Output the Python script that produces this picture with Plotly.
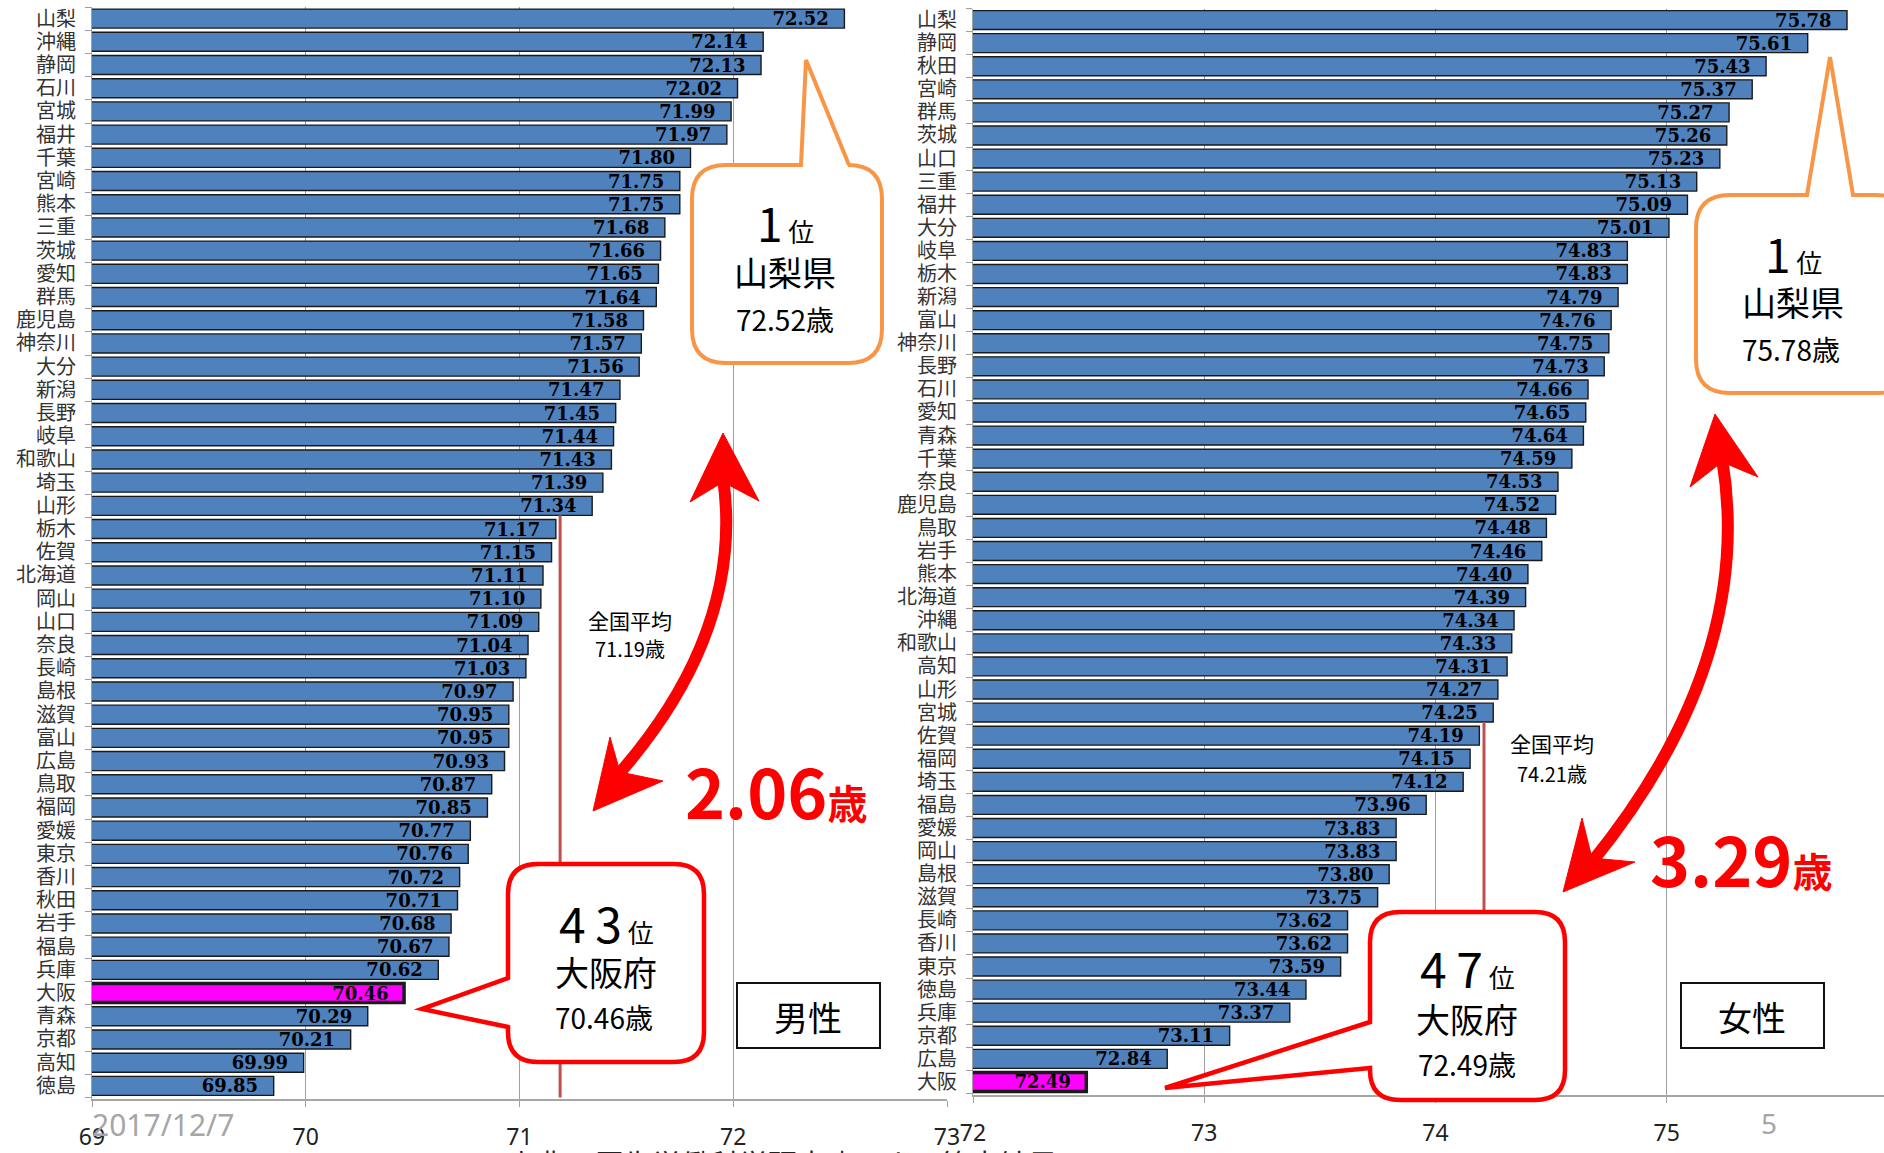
import plotly.graph_objects as go

W, H = 1884, 1153

# ---------------- data ----------------
pref_male = ["山梨", "沖縄", "静岡", "石川", "宮城", "福井", "千葉", "宮崎", "熊本", "三重",
             "茨城", "愛知", "群馬", "鹿児島", "神奈川", "大分", "新潟", "長野", "岐阜", "和歌山",
             "埼玉", "山形", "栃木", "佐賀", "北海道", "岡山", "山口", "奈良", "長崎", "島根",
             "滋賀", "富山", "広島", "鳥取", "福岡", "愛媛", "東京", "香川", "秋田", "岩手",
             "福島", "兵庫", "大阪", "青森", "京都", "高知", "徳島"]
male = [72.52, 72.14, 72.13, 72.02, 71.99, 71.97, 71.80, 71.75, 71.75, 71.68,
        71.66, 71.65, 71.64, 71.58, 71.57, 71.56, 71.47, 71.45, 71.44, 71.43,
        71.39, 71.34, 71.17, 71.15, 71.11, 71.10, 71.09, 71.04, 71.03, 70.97,
        70.95, 70.95, 70.93, 70.87, 70.85, 70.77, 70.76, 70.72, 70.71, 70.68,
        70.67, 70.62, 70.46, 70.29, 70.21, 69.99, 69.85]

pref_female = ["山梨", "静岡", "秋田", "宮崎", "群馬", "茨城", "山口", "三重", "福井", "大分",
               "岐阜", "栃木", "新潟", "富山", "神奈川", "長野", "石川", "愛知", "青森", "千葉",
               "奈良", "鹿児島", "鳥取", "岩手", "熊本", "北海道", "沖縄", "和歌山", "高知", "山形",
               "宮城", "佐賀", "福岡", "埼玉", "福島", "愛媛", "岡山", "島根", "滋賀", "長崎",
               "香川", "東京", "徳島", "兵庫", "京都", "広島", "大阪"]
female = [75.78, 75.61, 75.43, 75.37, 75.27, 75.26, 75.23, 75.13, 75.09, 75.01,
          74.83, 74.83, 74.79, 74.76, 74.75, 74.73, 74.66, 74.65, 74.64, 74.59,
          74.53, 74.52, 74.48, 74.46, 74.40, 74.39, 74.34, 74.33, 74.31, 74.27,
          74.25, 74.19, 74.15, 74.12, 73.96, 73.83, 73.83, 73.80, 73.75, 73.62,
          73.62, 73.59, 73.44, 73.37, 73.11, 72.84, 72.49]

mean_male = 71.19
mean_female = 74.21
highlight = "大阪"
x_ticks_male = [69, 70, 71, 72, 73]
x_ticks_female = [72, 73, 74, 75]

# ---------------- styles ----------------
BAR = "#4F81BD"
HL = "#FF00FF"
GRID = "#A0A0A0"
CJK = "Noto Sans CJK JP"
NB = "\u00a0"


def px(x):
    return x / W


def py(y):
    return 1 - y / H


def pt(x, y):
    return f"{px(x):.5f},{py(y):.5f}"


def bar_trace(names, vals, xa, ya):
    colors = [HL if n == highlight else BAR for n in names]
    lw = [3.5 if n == highlight else 1.4 for n in names]
    return go.Bar(
        y=names, x=vals, orientation="h", xaxis=xa, yaxis=ya,
        marker=dict(color=colors, line=dict(color="#1a1a1a", width=lw)),
        texttemplate="%{x:.2f}" + NB + NB, textposition="inside",
        insidetextanchor="end", constraintext="none", textangle=0,
        textfont=dict(family="DejaVu Serif", size=18, color="black", weight="bold"),
        hoverinfo="skip", showlegend=False, cliponaxis=False,
    )


fig = go.Figure()
fig.add_trace(bar_trace(pref_male, male, "x", "y"))
fig.add_trace(bar_trace(pref_female, female, "x2", "y2"))

yax_common = dict(
    type="category", autorange="reversed", showgrid=False,
    showline=True, linecolor=GRID, linewidth=1,
    ticks="outside", ticklen=6, tickcolor=GRID, tickson="boundaries",
    tickfont=dict(family=CJK, size=20, color="#333333"), ticklabelstandoff=11,
)
xax_common = dict(
    showgrid=True, gridcolor=GRID, gridwidth=1, zeroline=False,
    showline=True, linecolor="#A6A6A6", linewidth=2,
    ticks="outside", ticklen=6, tickcolor=GRID,
    tickfont=dict(family="Noto Sans", size=23, color="#222222"), ticklabelstandoff=10,
)

fig.update_layout(
    width=W, height=H, paper_bgcolor="white", plot_bgcolor="rgba(0,0,0,0)",
    margin=dict(l=0, r=0, t=0, b=0, autoexpand=False),
    bargap=0.18,
    xaxis=dict(domain=[px(92), px(947)], range=[69, 73], anchor="y",
               tickvals=x_ticks_male, **xax_common),
    yaxis=dict(domain=[py(1099), py(7)], anchor="x", tickmode="array",
               tickvals=pref_male, ticktext=pref_male, **yax_common),
    xaxis2=dict(domain=[px(973), 1.0], range=[72, 75.94], anchor="y2",
                tickvals=x_ticks_female, **xax_common),
    yaxis2=dict(domain=[py(1095), py(8.5)], anchor="x2", tickmode="array",
                tickvals=pref_female, ticktext=pref_female, **yax_common),
)

shapes = []

# national average lines (start below the last bar above the mean)
idx_m = max(i for i, v in enumerate(male) if v > mean_male)
idx_f = max(i for i, v in enumerate(female) if v > mean_female)
shapes.append(dict(type="line", xref="x", yref="y", x0=mean_male, x1=mean_male,
                   y0=idx_m + 0.41, y1=len(male) - 0.5,
                   line=dict(color="#C0504D", width=3), layer="above"))
shapes.append(dict(type="line", xref="x2", yref="y2", x0=mean_female, x1=mean_female,
                   y0=idx_f + 0.41, y1=len(female) - 0.5,
                   line=dict(color="#C0504D", width=3), layer="above"))


def callout_top(x0, y0, x1, y1, r, b1, b2, tip):
    return ("M " + pt(x0 + r, y0) + " L " + pt(b1, y0) + " L " + pt(*tip) + " L " + pt(b2, y0) +
            " L " + pt(x1 - r, y0) + " Q " + pt(x1, y0) + " " + pt(x1, y0 + r) +
            " L " + pt(x1, y1 - r) + " Q " + pt(x1, y1) + " " + pt(x1 - r, y1) +
            " L " + pt(x0 + r, y1) + " Q " + pt(x0, y1) + " " + pt(x0, y1 - r) +
            " L " + pt(x0, y0 + r) + " Q " + pt(x0, y0) + " " + pt(x0 + r, y0) + " Z")


def callout_left(x0, y0, x1, y1, r, b1, b2, tip):
    return ("M " + pt(x0 + r, y0) + " L " + pt(x1 - r, y0) + " Q " + pt(x1, y0) + " " + pt(x1, y0 + r) +
            " L " + pt(x1, y1 - r) + " Q " + pt(x1, y1) + " " + pt(x1 - r, y1) +
            " L " + pt(x0 + r, y1) + " Q " + pt(x0, y1) + " " + pt(x0, y1 - r) +
            " L " + pt(x0, b2) + " L " + pt(*tip) + " L " + pt(x0, b1) +
            " L " + pt(x0, y0 + r) + " Q " + pt(x0, y0) + " " + pt(x0 + r, y0) + " Z")


ORANGE = "#F79646"
RED = "#FF0000"
shapes.append(dict(type="path", xref="paper", yref="paper", layer="above",
                   path=callout_top(692, 165, 882, 363, 34, 801, 849, (806, 60)),
                   fillcolor="white", line=dict(color=ORANGE, width=4)))
shapes.append(dict(type="path", xref="paper", yref="paper", layer="above",
                   path=callout_top(1696, 195, 1910, 393, 34, 1807, 1853, (1830, 57)),
                   fillcolor="white", line=dict(color=ORANGE, width=4)))
shapes.append(dict(type="path", xref="paper", yref="paper", layer="above",
                   path=callout_left(508, 864, 704, 1062, 30, 978, 1027, (422, 1009)),
                   fillcolor="white", line=dict(color=RED, width=4.5)))
shapes.append(dict(type="path", xref="paper", yref="paper", layer="above",
                   path=callout_left(1370, 912, 1565, 1100, 30, 1022, 1068, (1165, 1088)),
                   fillcolor="white", line=dict(color=RED, width=4.5)))

# gender boxes
for (x0, y0, x1, y1) in [(737, 983, 880, 1048), (1681, 983, 1824, 1048)]:
    shapes.append(dict(type="rect", xref="paper", yref="paper", layer="above",
                       x0=px(x0), x1=px(x1), y0=py(y1), y1=py(y0),
                       fillcolor="white", line=dict(color="#111111", width=2)))

# red double arrows
def shaft(p0, c, p1):
    return "M " + pt(*p0) + " Q " + pt(*c) + " " + pt(*p1)


def head(tip, c1, notch, c2):
    return "M " + pt(*tip) + " L " + pt(*c1) + " L " + pt(*notch) + " L " + pt(*c2) + " Z"


for s in [shaft((723, 478), (745, 630), (618, 775)),
          shaft((1722, 458), (1756, 660), (1592, 862))]:
    shapes.append(dict(type="path", xref="paper", yref="paper", layer="above", path=s,
                       line=dict(color=RED, width=12)))
for h in [head((723, 433), (690, 502), (723, 482), (759, 501)),
          head((593, 811), (610, 737), (620, 772), (663, 781)),
          head((1715, 414), (1690, 487), (1722, 462), (1758, 477)),
          head((1563, 892), (1582, 818), (1592, 858), (1635, 862))]:
    shapes.append(dict(type="path", xref="paper", yref="paper", layer="above", path=h,
                       fillcolor=RED, line=dict(color=RED, width=1)))

fig.update_layout(shapes=shapes)

# ---------------- annotations ----------------
ann = []


def text(x, y, t, size, color="black", family=CJK, xanchor="center", yanchor="middle"):
    ann.append(dict(xref="paper", yref="paper", x=px(x), y=py(y), text=t, showarrow=False,
                    xanchor=xanchor, yanchor=yanchor,
                    font=dict(family=family, size=size, color=color)))


# 1st place callouts
text(785, 222, "<span style='font-size:46px'>1</span><span style='font-size:26px'> 位</span>", 26)
text(785, 272, "山梨県", 34)
text(785, 319, f"{male[0]:.2f}歳", 28)
text(1793, 253, "<span style='font-size:46px'>1</span><span style='font-size:26px'> 位</span>", 26)
text(1793, 302, "山梨県", 34)
text(1791, 349, f"{female[0]:.2f}歳", 28)

# Osaka callouts
rank_m = pref_male.index(highlight) + 1
rank_f = pref_female.index(highlight) + 1


def spaced(n):
    return "\u2009".join(str(n))


text(606, 922, f"<span style='font-size:48px'>{spaced(rank_m)}</span>"
               "<span style='font-size:26px'> 位</span>", 26)
text(606, 971, "大阪府", 34)
text(604, 1017, f"{male[rank_m - 1]:.2f}歳", 28)
text(1467, 967, f"<span style='font-size:48px'>{spaced(rank_f)}</span>"
                "<span style='font-size:26px'> 位</span>", 26)
text(1467, 1018, "大阪府", 34)
text(1467, 1064, f"{female[rank_f - 1]:.2f}歳", 28)

# national average labels
text(630, 620, "全国平均", 21)
text(630, 648, f"{mean_male:.2f}歳", 20)
text(1552, 743, "全国平均", 21)
text(1552, 773, f"{mean_female:.2f}歳", 20)

# gaps
gap_m = male[0] - male[rank_m - 1]
gap_f = female[0] - female[rank_f - 1]
text(683, 789, f"<b><span style='font-size:68px'>{gap_m:.2f}</span>"
               "<span style='font-size:40px'>歳</span></b>", 40, color=RED, xanchor="left")
text(1648, 857, f"<b><span style='font-size:68px'>{gap_f:.2f}</span>"
                "<span style='font-size:40px'>歳</span></b>", 40, color=RED, xanchor="left")

# gender labels
text(808, 1016, "男性", 34)
text(1752, 1016, "女性", 34)

# footer
text(90, 1124, "2017/12/7", 30, color="#A6A6A6", family="Noto Sans", xanchor="left")
text(1769, 1123, "5", 28, color="#A6A6A6", family="Noto Sans")
text(505, 1140, "出典：厚生労働科学研究班による算定結果", 29, color="#222222",
     xanchor="left", yanchor="top")

fig.update_layout(annotations=ann)

fig.write_html("out.html")
